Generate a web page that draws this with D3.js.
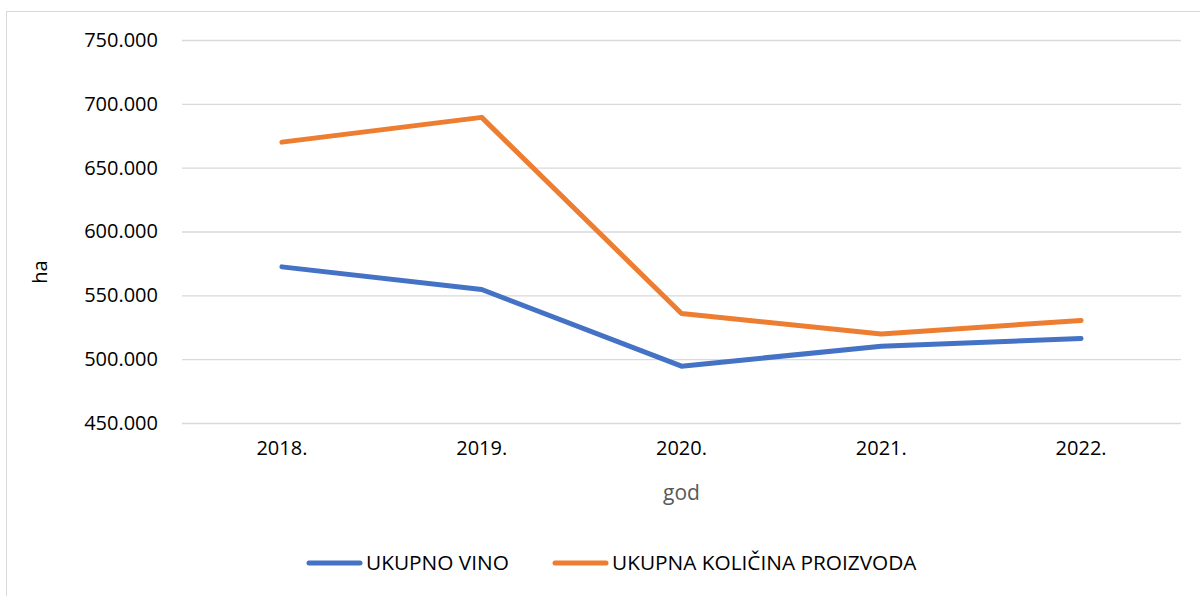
<!DOCTYPE html>
<html>
<head>
<meta charset="utf-8">
<script src="https://cdn.jsdelivr.net/npm/d3@7"></script>
<style>
  body { margin: 0; background: #fff; }
  text { font-family: "Open Sans", sans-serif; }
</style>
</head>
<body>
<div id="chart"></div>
<script>
const w = 1200;
const h = 596;

// data
const years = ["2018.", "2019.", "2020.", "2021.", "2022."];
const ukupnoVino = [572300, 554600, 494500, 510200, 516200];
const ukupnaKolicina = [670000, 689400, 535800, 519800, 530300];
const yTicks = [450000, 500000, 550000, 600000, 650000, 700000, 750000];
const seriesNames = ["UKUPNO VINO", "UKUPNA KOLIČINA PROIZVODA"];
const colors = ["#4472C4", "#ED7D31"];

const plot = {left: 182, right: 1181, top: 40, bottom: 423};

const svg = d3.select("#chart")
  .append("svg")
  .attr("width", w)
  .attr("height", h);

// chart border
svg.append("rect")
  .attr("x", 6.5).attr("y", 11.5)
  .attr("width", 1200).attr("height", 600)
  .attr("fill", "none")
  .attr("stroke", "#d9d9d9");

const x = d3.scaleBand()
  .domain(years)
  .range([plot.left, plot.right]);

const y = d3.scaleLinear()
  .domain([450000, 750000])
  .range([plot.bottom, plot.top]);

const fmt = d => d3.format(",.0f")(d).replace(/,/g, ".");

// grid + y labels
const yAxis = svg.append("g")
  .attr("transform", `translate(${plot.left},0)`)
  .call(d3.axisLeft(y).tickValues(yTicks).tickFormat(fmt)
    .tickSize(-(plot.right - plot.left)).tickPadding(24));
yAxis.select(".domain").remove();
yAxis.selectAll(".tick line").attr("stroke", "#d9d9d9").attr("stroke-width", 1.3);
yAxis.selectAll(".tick text")
  .attr("fill", "#000")
  .style("font-size", "20px");

// x labels
const xAxis = svg.append("g")
  .attr("transform", `translate(0,${plot.bottom})`)
  .call(d3.axisBottom(x).tickSize(0).tickPadding(18));
xAxis.select(".domain").remove();
xAxis.selectAll(".tick text")
  .attr("fill", "#000")
  .style("font-size", "20px");

// lines
const line = d3.line()
  .x((d, i) => x(years[i]) + x.bandwidth() / 2)
  .y(d => y(d));

[ukupnoVino, ukupnaKolicina].forEach((s, i) => {
  svg.append("path")
    .datum(s)
    .attr("fill", "none")
    .attr("stroke", colors[i])
    .attr("stroke-width", 5)
    .attr("stroke-linecap", "round")
    .attr("stroke-linejoin", "round")
    .attr("d", line);
});

// axis titles
svg.append("text")
  .attr("transform", "translate(47,272) rotate(-90)")
  .attr("text-anchor", "middle")
  .style("font-size", "20px")
  .attr("fill", "#000")
  .text("ha");

svg.append("text")
  .attr("x", (plot.left + plot.right) / 2)
  .attr("y", 500)
  .attr("text-anchor", "middle")
  .style("font-size", "21px")
  .attr("fill", "#595959")
  .text("god");

// legend
const legX = [309, 555];
const legend = svg.append("g");
seriesNames.forEach((name, i) => {
  legend.append("line")
    .attr("x1", legX[i]).attr("x2", legX[i] + 51)
    .attr("y1", 563).attr("y2", 563)
    .attr("stroke", colors[i])
    .attr("stroke-width", 5)
    .attr("stroke-linecap", "round");
  legend.append("text")
    .attr("x", legX[i] + 57)
    .attr("y", 570)
    .style("font-size", "20.8px")
    .attr("fill", "#000")
    .text(name);
});
</script>
</body>
</html>
